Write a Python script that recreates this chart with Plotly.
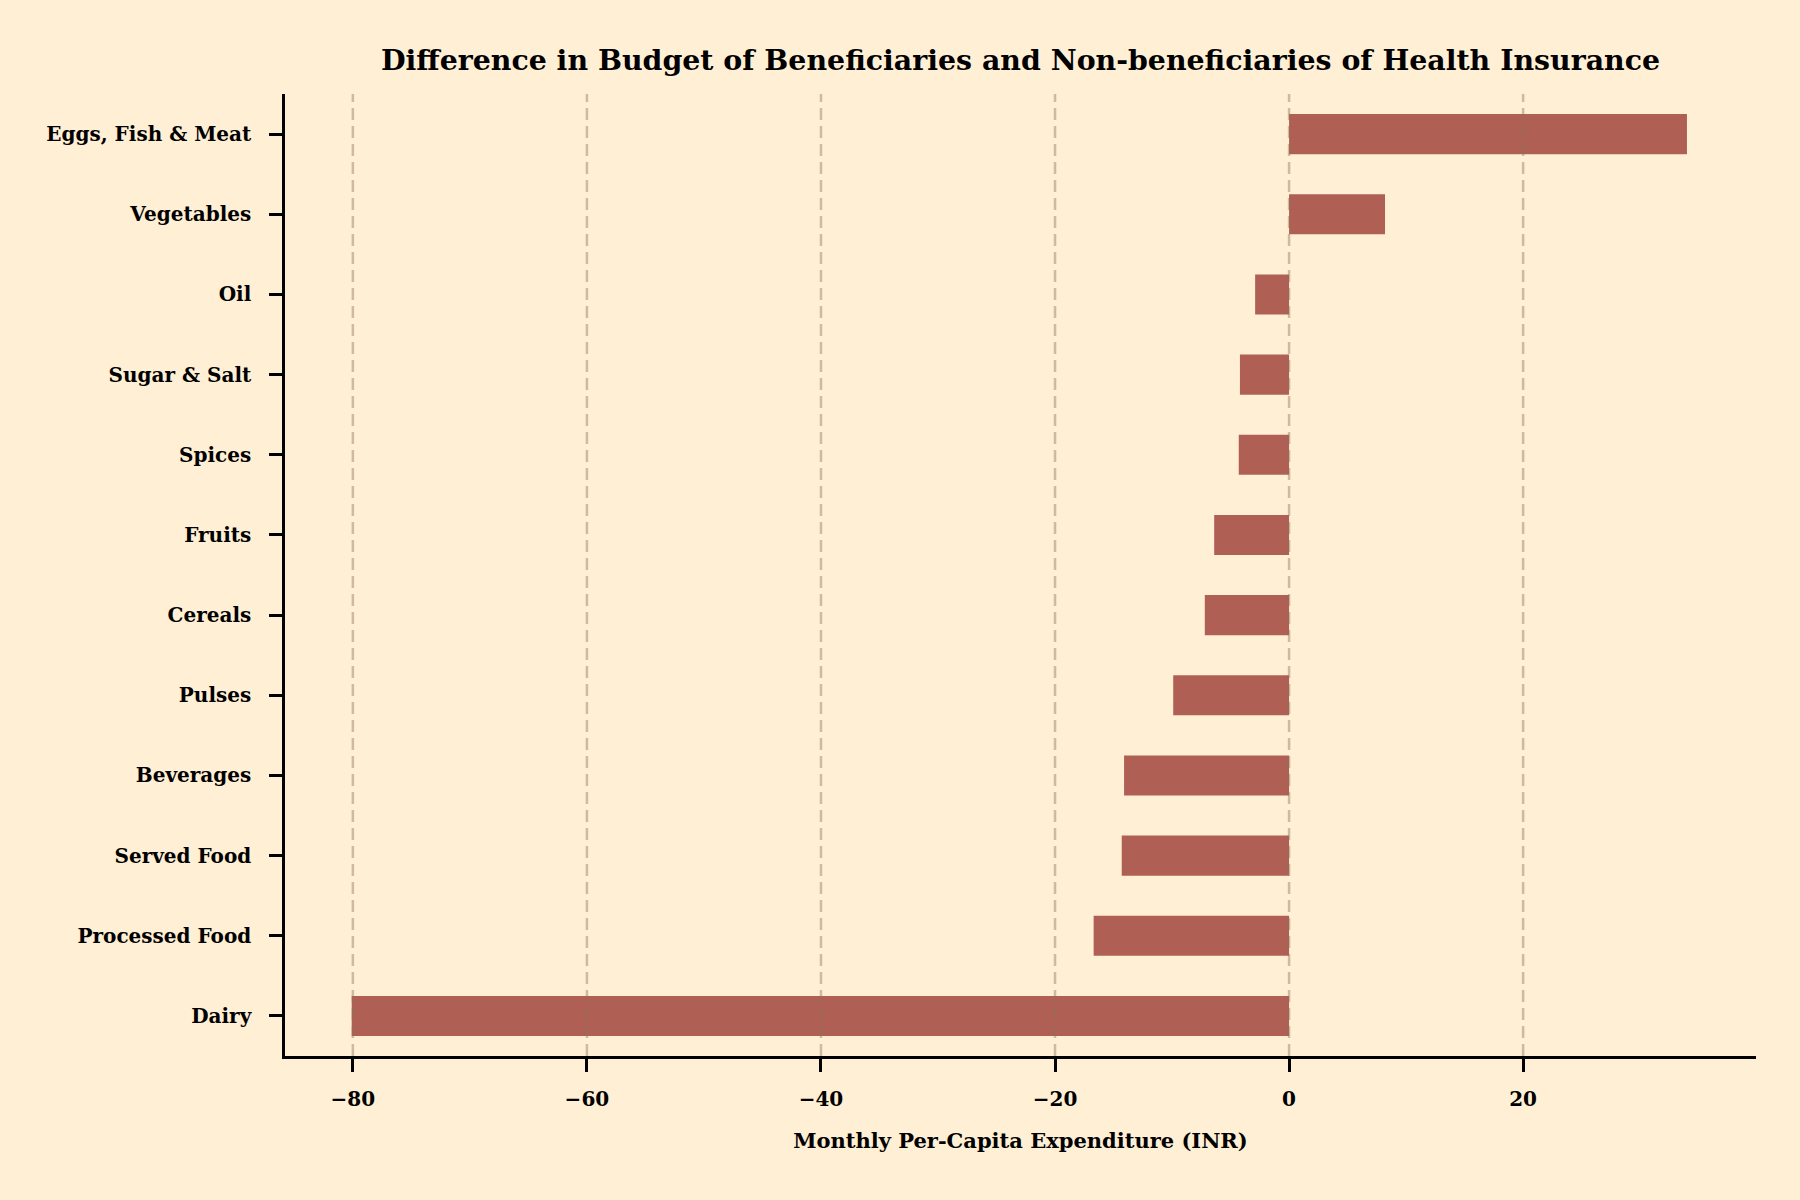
import plotly.graph_objects as go

# Data (bottom to top)
categories = ["Dairy", "Processed Food", "Served Food", "Beverages", "Pulses",
              "Cereals", "Fruits", "Spices", "Sugar & Salt", "Oil",
              "Vegetables", "Eggs, Fish & Meat"]
values = [-80.1, -16.7, -14.3, -14.1, -9.9, -7.2, -6.4, -4.3, -4.2, -2.9, 8.2, 34.0]

x_tick_vals = [-80, -60, -40, -20, 0, 20]
x_tick_text = ["\u221280", "\u221260", "\u221240", "\u221220", "0", "20"]

title_text = "Difference in Budget of Beneficiaries and Non-beneficiaries of Health Insurance"
x_title = "Monthly Per-Capita Expenditure (INR)"

BG = "#FFEFD5"
BAR = "#B05F54"
FONT = "DejaVu Serif"

fig = go.Figure()
fig.add_trace(go.Bar(
    x=values, y=categories, orientation="h", width=0.5,
    marker=dict(color=BAR, line=dict(width=0)),
    showlegend=False,
))

for v in x_tick_vals:
    fig.add_vline(x=v, line=dict(color="rgba(139,115,85,0.42)", width=2.5, dash="12px,6px"),
                  layer="above")

fig.update_layout(
    width=1800, height=1200,
    paper_bgcolor=BG, plot_bgcolor=BG,
    margin=dict(l=285, r=44, t=94, b=144),
    title=dict(text=title_text, x=0.5, xref="paper", xanchor="center",
               y=1 - 60 / 1200, yref="container", yanchor="middle",
               font=dict(family=FONT, size=28.4, color="black", weight="bold")),
    font=dict(family=FONT, color="black"),
    bargap=0.5,
)

fig.update_xaxes(
    range=[-85.8, 39.9],
    tickvals=x_tick_vals, ticktext=x_tick_text,
    showgrid=False, zeroline=False,
    showline=True, linecolor="black", linewidth=2.5,
    ticks="outside", ticklen=13, tickwidth=2.5, tickcolor="black",
    ticklabelstandoff=10,
    tickfont=dict(family=FONT, size=20, color="black", weight="bold"),
    title=dict(text=x_title, standoff=24,
               font=dict(family=FONT, size=21, color="black", weight="bold")),
)

fig.update_yaxes(
    type="category", categoryorder="array", categoryarray=categories,
    range=[-0.5, 11.5],
    showgrid=False, zeroline=False,
    showline=True, linecolor="black", linewidth=2.5,
    ticks="outside", ticklen=13, tickwidth=2.5, tickcolor="black",
    ticklabelstandoff=14,
    tickfont=dict(family=FONT, size=20, color="black", weight="bold"),
)

fig.write_html("out.html", config={"displayModeBar": False},
               post_script="document.body.style.margin='0';document.body.style.background='" + BG + "';")
